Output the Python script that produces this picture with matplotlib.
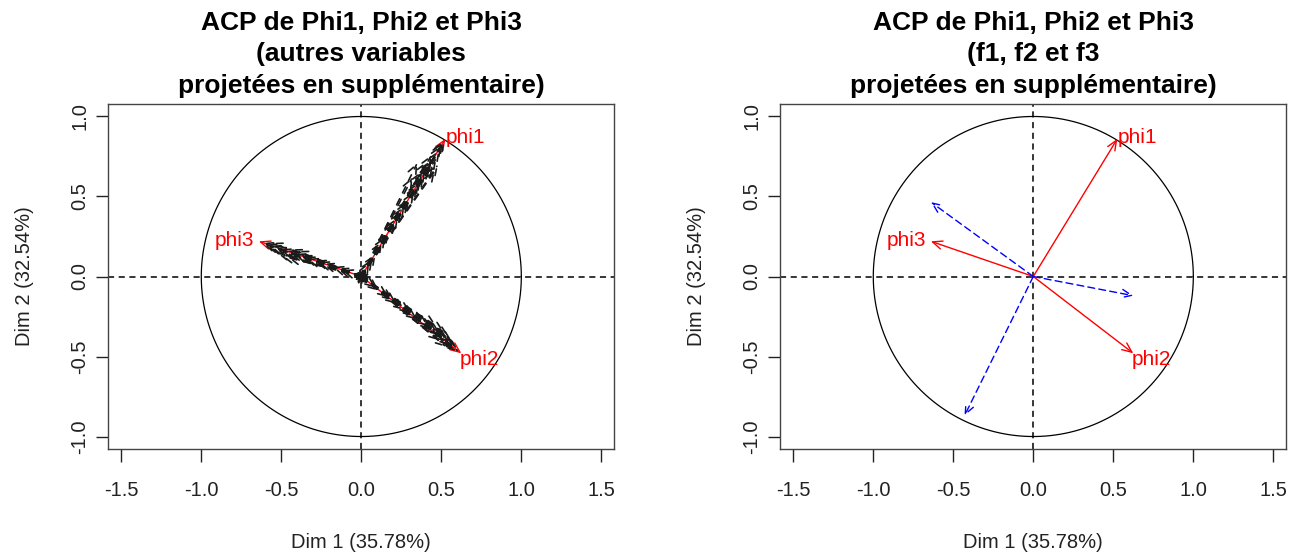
"""
ACP de Phi1, Phi2 et Phi3 -- cercles des correlations (deux panneaux).
"""
import numpy as np
import matplotlib
matplotlib.use('Agg')
import matplotlib.pyplot as plt

plt.rcParams['font.family'] = ['Liberation Sans', 'DejaVu Sans']

# variables actives (coordonnees sur Dim 1 / Dim 2)
active_names = ["phi1", "phi2", "phi3"]
active_x = [0.525, 0.625, -0.640]
active_y = [0.860, -0.480, 0.220]

# panneau droit : f1, f2, f3 en supplementaire
supp_f_x = [-0.640, 0.625, -0.430]
supp_f_y = [0.465, -0.120, -0.870]

# panneau gauche : autres variables en supplementaire
supp_x = [
    # groupe phi1
    0.05, 0.09, 0.13, 0.17, 0.21, 0.25, 0.27, 0.30, 0.33, 0.35, 0.37, 0.39, 0.40,
    0.42, 0.43, 0.45, 0.47, 0.49, 0.50, 0.52, 0.35, 0.32, 0.46, 0.48, 0.44, 0.41, 0.38,
    0.07, 0.15, 0.23, 0.29, 0.36, 0.44, 0.51,
    # groupe phi2
    0.06, 0.11, 0.17, 0.22, 0.27, 0.31, 0.35, 0.39, 0.42, 0.45, 0.48, 0.50, 0.52,
    0.54, 0.56, 0.58, 0.60, 0.61, 0.47, 0.52, 0.55, 0.49, 0.53, 0.57,
    0.09, 0.20, 0.33, 0.44, 0.59,
    # groupe phi3
    -0.06, -0.12, -0.18, -0.24, -0.29, -0.34, -0.38, -0.42, -0.45, -0.48, -0.51,
    -0.54, -0.57, -0.60, -0.62, -0.50, -0.46, -0.53, -0.56, -0.44, -0.40,
    -0.15, -0.27, -0.36, -0.58,
    # centre
    0.04, -0.03, 0.02, -0.04, 0.01, -0.05, 0.05, 0.00, 0.03, -0.02, 0.06, -0.01,
]
supp_y = [
    0.09, 0.14, 0.22, 0.28, 0.34, 0.41, 0.44, 0.49, 0.53, 0.57, 0.61, 0.63, 0.66,
    0.68, 0.70, 0.71, 0.74, 0.79, 0.82, 0.85, 0.71, 0.62, 0.66, 0.70, 0.76, 0.72, 0.66,
    0.11, 0.25, 0.37, 0.47, 0.59, 0.73, 0.84,
    -0.05, -0.09, -0.13, -0.17, -0.21, -0.23, -0.27, -0.29, -0.31, -0.34, -0.36, -0.37, -0.39,
    -0.41, -0.43, -0.44, -0.46, -0.47, -0.31, -0.35, -0.38, -0.40, -0.44, -0.41,
    -0.07, -0.15, -0.25, -0.33, -0.45,
    0.02, 0.04, 0.06, 0.08, 0.10, 0.11, 0.13, 0.14, 0.15, 0.16, 0.17,
    0.18, 0.19, 0.20, 0.21, 0.13, 0.12, 0.15, 0.21, 0.17, 0.16,
    0.05, 0.09, 0.12, 0.19,
    0.01, 0.03, -0.04, -0.02, 0.05, 0.00, -0.02, -0.05, 0.04, -0.05, 0.02, 0.04,
]

titles = [
    "ACP de Phi1, Phi2 et Phi3\n(autres variables\nprojetées en supplémentaire)",
    "ACP de Phi1, Phi2 et Phi3\n(f1, f2 et f3\nprojetées en supplémentaire)",
]
xlabel = "Dim 1 (35.78%)"
ylabel = "Dim 2 (32.54%)"
ticks = [-1.5, -1.0, -0.5, 0.0, 0.5, 1.0, 1.5]
yticks = [-1.0, -0.5, 0.0, 0.5, 1.0]

W, H = 1300, 554
fig = plt.figure(figsize=(13, 5.54), dpi=100, facecolor='white')
ax_l = fig.add_axes([108.3 / W, 105 / H, 506 / W, 345 / H])
ax_r = fig.add_axes([780.3 / W, 105 / H, 506 / W, 345 / H])

HEAD = '->,head_length=0.7,head_width=0.3'


def arrow(ax, x, y, color, lw=1.0, ls='-', z=2):
    ax.annotate('', xy=(x, y), xytext=(0, 0),
                arrowprops=dict(arrowstyle=HEAD, color=color, lw=lw, linestyle=ls,
                                shrinkA=0, shrinkB=0),
                zorder=z)


def base(ax, title):
    ax.set_xlim(-1.58, 1.58)
    ax.set_ylim(-1.078, 1.078)
    ax.set_aspect('equal', adjustable='box')
    t = np.linspace(0, 2 * np.pi, 400)
    ax.plot(np.cos(t), np.sin(t), color='black', lw=0.9)
    ax.axhline(0, color='black', lw=1.1, ls=(0, (4, 3)))
    ax.axvline(0, color='black', lw=1.1, ls=(0, (4, 3)))
    ax.set_xticks(ticks)
    ax.set_xticklabels([f"{v:.1f}" for v in ticks])
    ax.set_yticks(yticks)
    ax.set_yticklabels([f"{v:.1f}" for v in yticks], rotation=90, va='center')
    ax.tick_params(direction='out', length=9, width=1, colors='#222222',
                   labelsize=14.5)
    ax.tick_params(axis='x', pad=14)
    ax.tick_params(axis='y', pad=5)
    for s in ax.spines.values():
        s.set_edgecolor('#444444')
        s.set_linewidth(1.0)
    ax.set_xlabel(xlabel, fontsize=14.5, color='#222222', labelpad=24)
    ax.set_ylabel(ylabel, fontsize=14.5, color='#222222', labelpad=26)
    ax.text(0.5, 1.0 + 6 / 345, title, transform=ax.transAxes, ha='center',
            va='bottom', fontsize=19, fontweight='bold', linespacing=1.4)


def labels(ax):
    ax.text(active_x[0] + 0.005, active_y[0] - 0.05, active_names[0], color='red',
            fontsize=15, ha='left', va='bottom')
    ax.text(active_x[1] - 0.01, active_y[1] + 0.02, active_names[1], color='red',
            fontsize=15, ha='left', va='top')
    ax.text(active_x[2] - 0.03, active_y[2] + 0.005, active_names[2], color='red',
            fontsize=15, ha='right', va='center')


base(ax_l, titles[0])
for x, y in zip(active_x, active_y):
    arrow(ax_l, x, y, 'red', lw=1.0, z=2)
for x, y in zip(supp_x, supp_y):
    arrow(ax_l, x, y, '#1a1a1a', lw=1.2, ls=(0, (4, 4)), z=3)
labels(ax_l)

base(ax_r, titles[1])
for x, y in zip(active_x, active_y):
    arrow(ax_r, x, y, 'red', lw=1.0, z=3)
for x, y in zip(supp_f_x, supp_f_y):
    arrow(ax_r, x, y, 'blue', lw=1.0, ls=(0, (5, 3)), z=3)
labels(ax_r)

fig.savefig('out.png', dpi=100, facecolor='white')
